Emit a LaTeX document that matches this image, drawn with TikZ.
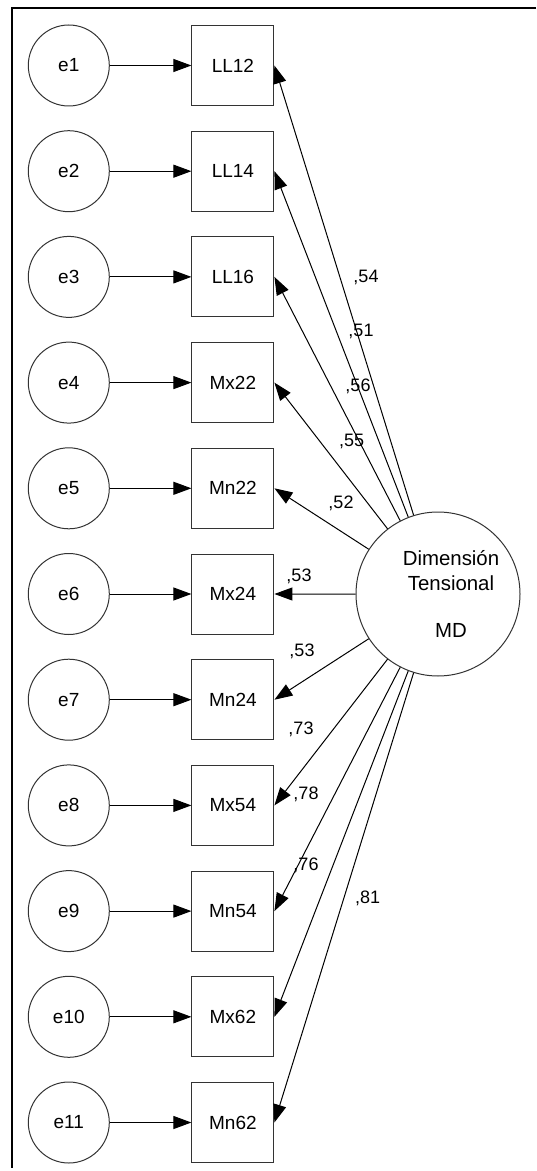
\documentclass[tikz,border=0pt]{standalone}
\usepackage{fontspec}
\setmainfont{Liberation Sans}
\usetikzlibrary{arrows.meta}

\begin{document}
\begin{tikzpicture}[x=0.5pt, y=-0.5pt, line width=0.5pt,
  >={Triangle[length=9pt,width=6.5pt]},
  errvar/.style={draw=black!80, circle, minimum size=40.5pt, inner sep=0pt, font=\fontsize{9.5}{11}\selectfont},
  obsvar/.style={draw=black!80, rectangle, minimum width=41pt, minimum height=40pt, inner sep=0pt, font=\fontsize{9.5}{11}\selectfont},
  latent/.style={draw=black!80, circle, minimum size=82pt, inner sep=0pt},
  coef/.style={anchor=base, inner sep=0pt, font=\fontsize{9}{11}\selectfont}]
  \useasboundingbox (0,0) rectangle (536,1171);
  % frame, only top and left edges are visible
  \draw[line width=1pt] (536,8.3) -- (12.3,8.3) -- (12.3,1168);
  % error terms and indicators, one row each
  \foreach \v [count=\i] in {LL12,LL14,LL16,Mx22,Mn22,Mx24,Mn24,Mx54,Mn54,Mx62,Mn62} {
    \node[errvar] (e\i) at (68.8,{65.5+(\i-1)*105.7}) {e\i};
    \node[obsvar] (\v) at (232.9,{65.5+(\i-1)*105.7}) {\v};
    \draw[->] (e\i) -- (\v);
  }
  % latent factor
  \node[latent, label={[name=MDtext, align=center, xshift=6.5pt, font=\fontsize{10.2}{12.5}\selectfont]center:Dimensión\\Tensional\\[11pt]MD}] (MD) at (438,594) {};
  % loadings
  \foreach \v/\c/\lx/\ly in {LL12/54/366/283, LL14/51/361/336.7, LL16/56/358/391.7, Mx22/55/351.7/446.7,
      Mn22/52/341/508.3, Mx24/53/299/581.7, Mn24/53/302/656.7, Mx54/73/301/734.3,
      Mn54/78/306/799.3, Mx62/76/306/870, Mn62/81/367.7/903.3} {
    \draw[->] (MD) -- (\v.east);
    \node[coef] (c\v) at (\lx,\ly) {,\c};
  }
\end{tikzpicture}
\end{document}
